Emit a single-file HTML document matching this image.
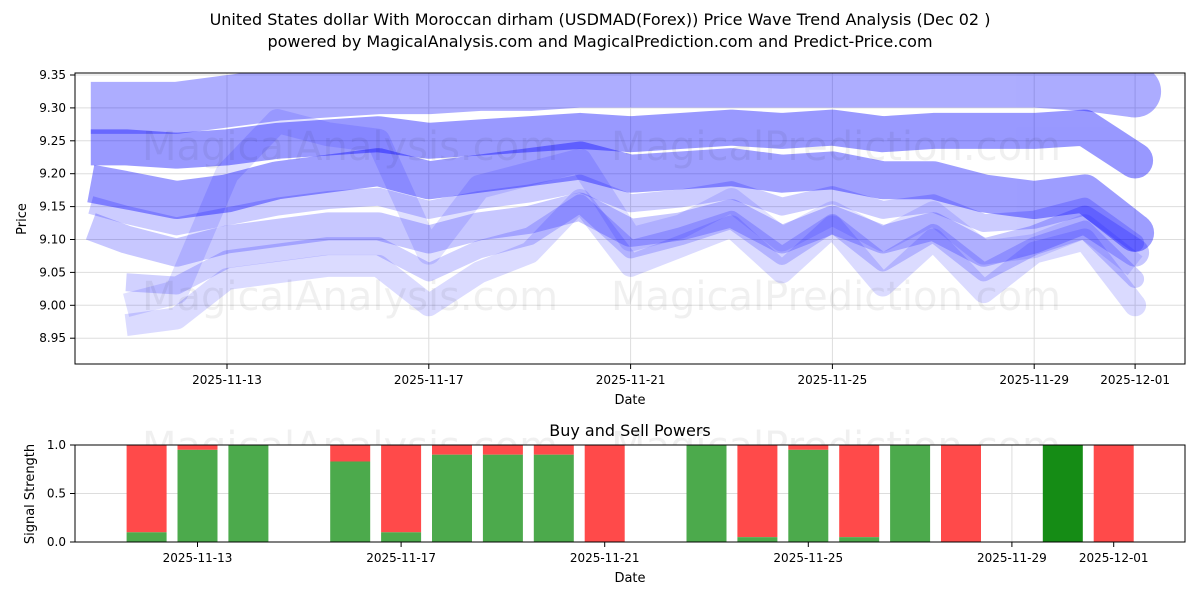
<!DOCTYPE html>
<html><head><meta charset="utf-8"><style>
body{margin:0;background:#fff;font-family:"Liberation Sans","DejaVu Sans",sans-serif}
svg text{font-family:"DejaVu Sans","Liberation Sans",sans-serif}
</style></head><body>
<svg id="c" width="1200" height="600" xmlns="http://www.w3.org/2000/svg"></svg>
<script>
const days=[10.3,11,12,13,14,15,16,17,18,19,20,21,22,23,24,25,26,27,28,29,30,31];
const bandTop=[9.3,9.3,9.3,9.31,9.32,9.325,9.33,9.33,9.335,9.335,9.34,9.34,9.34,9.34,9.34,9.34,9.34,9.34,9.34,9.34,9.335,9.325];
const bandMid=[9.24,9.24,9.235,9.24,9.25,9.255,9.26,9.25,9.255,9.26,9.265,9.26,9.265,9.27,9.265,9.27,9.26,9.265,9.265,9.265,9.27,9.22];
const bandC=[9.185,9.175,9.16,9.17,9.19,9.2,9.21,9.19,9.2,9.21,9.22,9.2,9.205,9.21,9.2,9.205,9.19,9.19,9.17,9.16,9.17,9.11];
const bandD=[9.12,9.1,9.08,9.1,9.11,9.12,9.12,9.1,9.12,9.13,9.15,9.11,9.12,9.14,9.1,9.13,9.1,9.12,9.08,9.1,9.13,9.08];
const bandE=[8.95,8.97,8.98,9.04,9.05,9.06,9.06,9.0,9.05,9.08,9.16,9.06,9.09,9.12,9.05,9.12,9.03,9.1,9.02,9.08,9.1,9.0];
const bandF=[9.0,9.0,9.02,9.2,9.28,9.26,9.25,9.08,9.18,9.2,9.22,9.1,9.12,9.16,9.1,9.14,9.1,9.14,9.08,9.09,9.12,9.06];
const barDays=[12,13,14,16,17,18,19,20,21,23,24,25,26,27,28,30,31];
const buyVals=[0.1,0.95,1.0,0.83,0.1,0.9,0.9,0.9,0.0,1.0,0.05,0.95,0.05,1.0,0.0,1.0,0.0];
const yTicks=[8.95,9.0,9.05,9.1,9.15,9.2,9.25,9.3,9.35];
const xTickDays=[13,17,21,25,29,31];
const xTickLabels=["2025-11-13","2025-11-17","2025-11-21","2025-11-25","2025-11-29","2025-12-01"];
const svg=document.getElementById('c');const NS='http://www.w3.org/2000/svg';
function mk(t,a,p){const e=document.createElementNS(NS,t);for(const k in a)e.setAttribute(k,a[k]);(p||svg).appendChild(e);return e;}
const X=d=>227+(d-13)*50.45;
const X2=d=>197.5+(d-13)*50.9;
const Y=v=>75+(9.35-v)/0.05*32.9;
const Y2=v=>542-v*97;
mk('rect',{x:75,y:73,width:1110,height:291,fill:'#fff',stroke:'#000'});
yTicks.forEach(v=>{mk('line',{x1:75,x2:1185,y1:Y(v),y2:Y(v),stroke:'#ddd'});mk('line',{x1:70,x2:75,y1:Y(v),y2:Y(v),stroke:'#000'});const t=mk('text',{x:66,y:Y(v)+4,'font-size':12,'text-anchor':'end'});t.textContent=v.toFixed(2);});
xTickDays.forEach((d,i)=>{mk('line',{x1:X(d),x2:X(d),y1:73,y2:364,stroke:'#ddd'});mk('line',{x1:X(d),x2:X(d),y1:364,y2:369,stroke:'#000'});const t=mk('text',{x:X(d),y:384,'font-size':12,'text-anchor':'middle'});t.textContent=xTickLabels[i];});
const clip=mk('clipPath',{id:'cp'});mk('rect',{x:75,y:73,width:1110,height:291},clip);
const g=mk('g',{'clip-path':'url(#cp)'});
function band(arr,w,op,name,start,cap){const pts=arr.map((v,i)=>[X(days[i]),Y(v)]).slice(start||0);
const gg=mk('g',{opacity:op},g);
const p=mk('polyline',{points:pts.map(q=>q.join(',')).join(' '),fill:'none',stroke:'#0000ff','stroke-width':w,'stroke-linejoin':'round','stroke-linecap':'butt'},gg);
if(cap){const l=pts[pts.length-1];const c=mk('circle',{cx:l[0],cy:l[1],r:w/2,fill:'#0000ff'},gg);}}
band(bandTop,52,0.32,'wave-band-top',0,true);
band(bandMid,36,0.4,'wave-band-mid',0,true);
band(bandC,38,0.38,'wave-band-c',0,true);
band(bandF,24,0.12,'wave-band-f',1);
band(bandD,28,0.22,'wave-band-d',0,true);
band(bandE,22,0.14,'wave-band-e',1,true);
band(bandD.map((v,i)=>(v+bandE[i])/2),18,0.18,'wave-band-de',1,true);
band(bandC.map((v,i)=>(v+bandD[i])/2),18,0.2,'wave-band-cd',0,true);
[['wm1',350,160],['wm2',836,160],['wm3',350,310],['wm4',836,310],['wm5',350,460],['wm6',836,460]].forEach(w=>{const t=mk('text',{x:w[1],y:w[2],'font-size':40,'text-anchor':'middle',fill:'#000','fill-opacity':0.06});t.textContent=w[1]<500?'MagicalAnalysis.com':'MagicalPrediction.com';});
mk('rect',{x:75,y:73,width:1110,height:291,fill:'none',stroke:'#000'});
function txt(s,x,y,sz,name,rot){const t=mk('text',{x:x,y:y,'font-size':sz,'text-anchor':'middle'});if(rot)t.setAttribute('transform','rotate(-90 '+x+' '+y+')');t.textContent=s;}
txt('United States dollar With Moroccan dirham (USDMAD(Forex)) Price Wave Trend Analysis (Dec 02 )',600,25,16,'chart-title');
txt('powered by MagicalAnalysis.com and MagicalPrediction.com and Predict-Price.com',600,47,16,'chart-subtitle');
txt('Date',630,404,13,'x-axis-title');txt('Price',26,219,13,'y-axis-title',true);
mk('rect',{x:75,y:445,width:1110,height:97,fill:'#fff',stroke:'#000'});
[0,0.5,1].forEach(v=>{mk('line',{x1:75,x2:1185,y1:Y2(v),y2:Y2(v),stroke:'#ddd'});mk('line',{x1:70,x2:75,y1:Y2(v),y2:Y2(v),stroke:'#000'});const t=mk('text',{x:66,y:Y2(v)+4,'font-size':12,'text-anchor':'end'});t.textContent=v.toFixed(1);});
xTickDays.forEach((d,i)=>{mk('line',{x1:X2(d),x2:X2(d),y1:445,y2:542,stroke:'#ddd'});mk('line',{x1:X2(d),x2:X2(d),y1:542,y2:547,stroke:'#000'});const t=mk('text',{x:X2(d),y:562,'font-size':12,'text-anchor':'middle'});t.textContent=xTickLabels[i];});
barDays.forEach((d,i)=>{const b=buyVals[i];const x=X2(d)-20,w=40;
const r=mk('rect',{x:x,y:Y2(1),width:w,height:Y2(b)-Y2(1),fill:'#ff4a4a'});
const gr=mk('rect',{x:x,y:Y2(b),width:w,height:Y2(0)-Y2(b),fill:d===30?'#158c15':'#4caa4c'});});
mk('rect',{x:75,y:445,width:1110,height:97,fill:'none',stroke:'#000'});
txt('Buy and Sell Powers',630,436,16,'signal-title');txt('Date',630,582,13,'x2-axis-title');txt('Signal Strength',34,494,13,'y2-axis-title',true);
</script></body></html>
